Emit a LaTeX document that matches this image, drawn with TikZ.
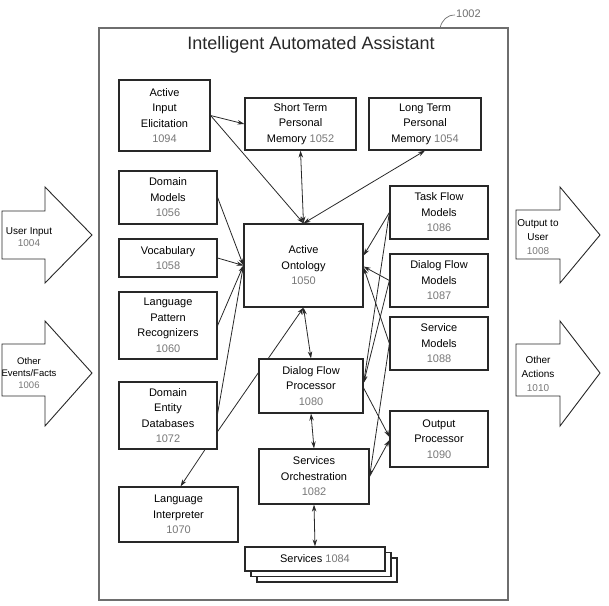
\documentclass[tikz,border=0pt]{standalone}
\usepackage{fontspec}
\setmainfont{Liberation Sans}
\usetikzlibrary{calc,arrows.meta,backgrounds}
\definecolor{boxc}{RGB}{40,40,40}
\definecolor{numc}{RGB}{120,120,120}
\definecolor{outc}{RGB}{110,110,110}
\newcommand{\nm}[1]{\textcolor{numc}{#1}}
\tikzset{
  box/.style={draw=boxc, line width=1.2pt, fill=white, align=center, inner sep=0pt,
    font=\fontsize{11}{15.5}\selectfont},
  conn/.style={line width=0.8pt, draw=boxc, -{Stealth[length=7pt,width=4.5pt]}},
  dconn/.style={line width=0.8pt, draw=boxc, {Stealth[length=7pt,width=4.5pt]}-{Stealth[length=7pt,width=4.5pt]}},
  barrow/.style={draw=boxc, line width=0.9pt, fill=white},
  atext/.style={align=center, inner sep=0pt, font=\fontsize{10}{12}\selectfont},
}
\begin{document}
\begin{tikzpicture}[x=1pt,y=-1pt]
\useasboundingbox (0,0) rectangle (609,605);
% outer box
\draw[draw=outc, line width=1.2pt] (99,28) rectangle (508,600);
\node[font=\fontsize{18}{20}\selectfont, text=boxc] (title) at (311,45) {Intelligent Automated Assistant};
\draw[outc, line width=0.7pt] (440,28) .. controls (442,20) and (447,15) .. (455,15);
\node[anchor=west, inner sep=0pt, font=\fontsize{11}{12}\selectfont, text=outc] (n1002) at (456,14) {1002};

% block arrows
\draw[barrow] (2,211) -- (45,211) -- (45,187) -- (92,235) -- (45,283) -- (45,259) -- (2,259) -- cycle;
\node[atext] (ui) at (29,237) {User Input\\\nm{1004}};
\draw[barrow] (2,344) -- (45,344) -- (45,321) -- (92,373) -- (45,426) -- (45,396) -- (2,396) -- cycle;
\node[atext, font=\fontsize{9.5}{12}\selectfont] (oe) at (29,373) {Other\\Events/Facts\\\nm{1006}};
\draw[barrow] (516,210) -- (560,210) -- (560,187) -- (600,235) -- (560,283) -- (560,259) -- (516,259) -- cycle;
\node[atext, font=\fontsize{10}{14}\selectfont] (ou) at (538,237) {Output to\\User\\\nm{1008}};
\draw[barrow] (516,344) -- (560,344) -- (560,321) -- (600,373) -- (560,426) -- (560,396) -- (516,396) -- cycle;
\node[atext, font=\fontsize{10}{14}\selectfont] (oa) at (538,374) {Other\\Actions\\\nm{1010}};

% boxes
\node[box, minimum width=91pt, minimum height=71pt] (aie) at (164.5,115.5) {Active\\Input\\Elicitation\\\nm{1094}};
\node[box, minimum width=111pt, minimum height=52pt] (stm) at (300.5,124) {Short Term\\Personal\\Memory \nm{1052}};
\node[box, minimum width=112pt, minimum height=52pt] (ltm) at (425,124) {Long Term\\Personal\\Memory \nm{1054}};
\node[box, minimum width=98pt, minimum height=53pt] (dm) at (168,197.5) {Domain\\Models\\\nm{1056}};
\node[box, minimum width=98pt, minimum height=38pt] (voc) at (168,258) {Vocabulary\\\nm{1058}};
\node[box, minimum width=98pt, minimum height=67pt] (lpr) at (168,325.5) {Language\\Pattern\\Recognizers\\\nm{1060}};
\node[box, minimum width=119pt, minimum height=83pt] (ao) at (303.5,265.5) {Active\\Ontology\\\nm{1050}};
\node[box, minimum width=98pt, minimum height=67pt] (ded) at (168,415.5) {Domain\\Entity\\Databases\\\nm{1072}};
\node[box, minimum width=119pt, minimum height=55pt] (li) at (178.5,514.5) {Language\\Interpreter\\\nm{1070}};
\node[box, minimum width=104pt, minimum height=54pt] (dfp) at (311,386) {Dialog Flow\\Processor\\\nm{1080}};
\node[box, minimum width=110pt, minimum height=55pt] (so) at (314,476.5) {Services\\Orchestration\\\nm{1082}};
\node[box, minimum width=140pt, minimum height=24pt] (sv3) at (327,570) {};
\node[box, minimum width=140pt, minimum height=24pt] (sv2) at (321,564.5) {};
\node[box, minimum width=140pt, minimum height=24pt] (sv) at (315,559) {Services \nm{1084}};
\node[box, minimum width=98pt, minimum height=53pt] (tfm) at (439,212.5) {Task Flow\\Models\\\nm{1086}};
\node[box, minimum width=98pt, minimum height=53pt] (dfm) at (439,280.5) {Dialog Flow\\Models\\\nm{1087}};
\node[box, minimum width=98pt, minimum height=53pt] (sm) at (439,343.5) {Service\\Models\\\nm{1088}};
\node[box, minimum width=98pt, minimum height=56pt] (op) at (439,439) {Output\\Processor\\\nm{1090}};

% connectors
\begin{scope}[on background layer]
\draw[conn] (aie.east) -- (stm.west);
\draw[conn] (aie.east) -- (ao.north);
\draw[dconn] (stm.south) -- (ao.north);
\draw[dconn] (ltm.south) -- (ao.north);
\draw[conn] (dm.east) -- (ao.west);
\draw[conn] (voc.east) -- (ao.west);
\draw[conn] (lpr.east) -- (ao.west);
\draw[conn] ($(ded.east)+(0,-2)$) -- (ao.west);
\draw[conn] ($(ded.east)+(0,16)$) -- (ao.south);
\draw[conn] ($(ded.south)+(37,0)$) -- ($(li.north)+(2,0)$);
\draw[dconn] (ao.south) -- (dfp.north);
\draw[dconn] (dfp.south) -- (so.north);
\draw[dconn] (so.south) -- (sv.north);
\draw[conn] (tfm.west) -- ($(ao.east)+(0,-10)$);
\draw[conn] (tfm.west) -- ($(dfp.east)+(0,-3)$);
\draw[conn] (dfm.west) -- ($(ao.east)+(0,1)$);
\draw[conn] (sm.west) -- ($(ao.east)+(0,2)$);
\draw[conn] (dfm.west) -- ($(dfp.east)+(0,-3)$);
\draw[conn] (sm.west) -- (so.east);
\draw[conn] ($(dfp.east)+(0,2)$) -- ($(op.west)+(0,-2)$);
\draw[conn] (so.east) -- ($(op.west)+(0,1)$);
\end{scope}
\end{tikzpicture}
\end{document}
